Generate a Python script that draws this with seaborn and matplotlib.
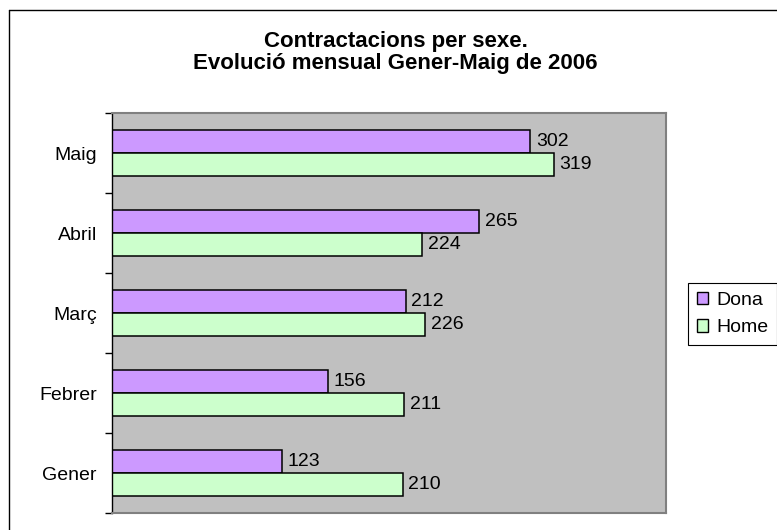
import pandas as pd
import matplotlib
matplotlib.use("Agg")
import matplotlib.pyplot as plt
import matplotlib.lines as mlines
import seaborn as sns

mesos = ['Maig', 'Abril', 'Març', 'Febrer', 'Gener']
dona = [302, 265, 212, 156, 123]
home = [319, 224, 226, 211, 210]
sexes = ['Dona', 'Home']
colors = ['#CC99FF', '#CCFFCC']

df = pd.DataFrame({
    'mes': mesos * 2,
    'sexe': ['Dona'] * len(mesos) + ['Home'] * len(mesos),
    'valor': dona + home,
})

sns.set_style("white")
plt.rcParams['font.family'] = ['Liberation Sans', 'DejaVu Sans']
plt.rcParams['text.color'] = 'black'
plt.rcParams['ytick.color'] = 'black'
plt.rcParams['ytick.labelcolor'] = 'black'

fig = plt.figure(figsize=(7.77, 5.30), dpi=100)
ax = fig.add_axes([112 / 777, 1 - 513 / 530, 554 / 777, 400 / 530])

sns.barplot(data=df, x='valor', y='mes', hue='sexe', order=mesos, hue_order=sexes,
            palette=colors, edgecolor='black', linewidth=1.1, width=0.58,
            saturation=1, ax=ax)

for c in ax.containers:
    ax.bar_label(c, padding=4, fontsize=14, color='black')

ax.set_facecolor('#C0C0C0')
ax.set_xlim(0, 400)
ax.set_ylim(len(mesos) - 0.5, -0.5)
ax.set_xlabel('')
ax.set_ylabel('')
ax.set_xticks([])
ax.tick_params(axis='y', which='major', left=False, length=0, labelsize=14, pad=11)
ax.set_yticks([i + 0.5 for i in range(-1, len(mesos))], minor=True)
ax.tick_params(axis='y', which='minor', left=True, length=5, width=1,
               color='black', direction='out')

for side in ['top', 'right', 'bottom']:
    ax.spines[side].set_color('#808080')
    ax.spines[side].set_linewidth(1.5)
ax.spines['left'].set_color('black')
ax.spines['left'].set_linewidth(1)

ax.legend(loc='center left', bbox_to_anchor=(688 / 777, 1 - 314 / 530),
          bbox_transform=fig.transFigure, frameon=True, fancybox=False,
          edgecolor='black', framealpha=1, fontsize=14, handlelength=0.6,
          handleheight=0.6, handletextpad=0.4, borderpad=0.45, labelspacing=0.55,
          borderaxespad=0)
for h in ax.get_legend().legend_handles:
    h.set_edgecolor('black')
    h.set_linewidth(1)
ax.get_legend().get_frame().set_linewidth(0.8)

fig.text(0.509, 1 - 41 / 530, 'Contractacions per sexe.', ha='center', va='center',
         fontsize=16, fontweight='bold')
fig.text(0.509, 1 - 63 / 530, 'Evolució mensual Gener-Maig de 2006', ha='center', va='center',
         fontsize=16, fontweight='bold')

# chart frame: only the left and top edges are visible in the cropped original
x0 = 8.5 / 777
y0 = 1 - 9.5 / 530
fig.lines.append(mlines.Line2D([x0, x0], [0, y0], transform=fig.transFigure,
                               color='black', linewidth=1))
fig.lines.append(mlines.Line2D([x0, 1], [y0, y0], transform=fig.transFigure,
                               color='black', linewidth=1))

fig.savefig('out.png', dpi=100)
